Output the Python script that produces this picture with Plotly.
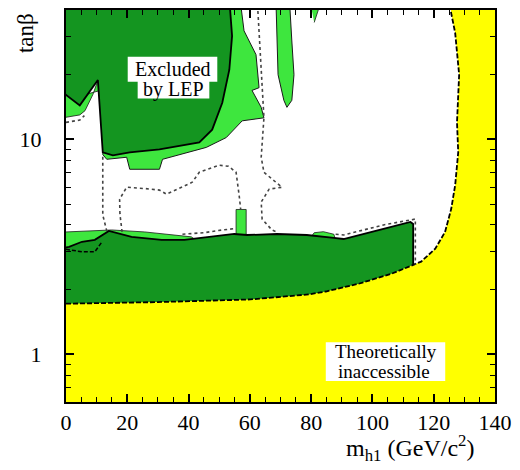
import math
import plotly.graph_objects as go

# ---------------- data ----------------
# boundary of the theoretically inaccessible (yellow) region
bound_x = [0, 30, 60.1, 79.2, 84.8, 95.5, 106.2, 113.3, 115.9, 120.5, 123.7, 125.7, 127.0, 128.0, 127.6, 128.3, 127.0, 125.7, 125.3]
bound_y = [1.72, 1.75, 1.80, 1.90, 1.96, 2.13, 2.37, 2.61, 2.70, 3.10, 3.71, 4.74, 6.12, 8.71, 12.0, 20.0, 31.3, 38.7, 45]

# dark green (excluded) : low tan(beta) band
band_x = [-1, 113.3, 113.3, 112.4, 103.6, 90.6, 87.4, 78.6, 68.9, 59.1, 54.9, 38.6, 31.2, 21.4, 14.0, 9.4, 5.2, 1.0, -1]
band_y = [1.5, 1.5, 4.04, 4.13, 3.83, 3.44, 3.48, 3.59, 3.63, 3.59, 3.63, 3.41, 3.41, 3.52, 3.75, 3.41, 3.34, 3.16, 3.13]

# dark green (excluded) : high tan(beta) region
high_x = [-1, 53.3, 54.2, 53.3, 51.0, 47.7, 43.5, 30.5, 20.8, 15.3, 12.0, 11.0, 10.4, 4.5, -1]
high_y = [45, 45, 30.3, 21.1, 14.8, 11.1, 9.68, 8.99, 8.71, 8.43, 8.71, 14.8, 18.9, 14.4, 16.5]

# light green regions
lg_main_x = [50, 56.8, 58.1, 62.0, 63.0, 60.7, 63.7, 64.6, 57.5, 52.3, 45.8, 31.5, 30.5, 20.8, 19.8, 13.3, 12.0, 12.5, 30, 50]
lg_main_y = [45, 45, 32.0, 24.8, 17.4, 16.9, 14.1, 12.6, 12.2, 10.2, 9.18, 8.08, 7.26, 7.26, 8.26, 8.08, 8.5, 10, 10, 20]
lg_hill_x = [-1, 4.5, 6.2, 8.8, 10.5, 12, 5, -1]
lg_hill_y = [12.6, 13.0, 13.6, 16.2, 19.0, 17, 16, 17]
lg_strip_x = [68.5, 69.2, 71.1, 72.1, 73.7, 74.4, 73.7, 72.9]
lg_strip_y = [45, 20.0, 15.2, 14.1, 15.2, 20.0, 28.7, 45]
lg_sliver_x = [79.5, 83.5, 81.0]
lg_sliver_y = [45, 45, 35]
lg_band_x = [-1, 0, 14.9, 25.7, 40.9, 45, -1]
lg_band_y = [3.71, 3.71, 3.79, 3.71, 3.52, 3.2, 3.0]
lg_spike_x = [55.5, 55.5, 58.8, 58.8]
lg_spike_y = [3.4, 4.72, 4.72, 3.4]
lg_bump_x = [79.5, 81.0, 84.0, 87.4, 88.0]
lg_bump_y = [3.45, 3.68, 3.72, 3.62, 3.4]

# black dashed line inside the band
inner_x = [0, 1.0, 5.2, 9.4, 11.7]
inner_y = [3.08, 3.06, 3.0, 3.0, 3.33]

# dotted contours
dot1_x = [0, 4.5, 6.0]
dot1_y = [12.0, 12.3, 12.9]
dot2_x = [12.0, 12.0, 12.2, 12.0, 13.3]
dot2_y = [8.3, 7.83, 6.0, 4.45, 3.75]
dot3_x = [18.3, 17.6, 17.5, 19.8, 26, 30.5, 32.8, 41.2, 43.5, 50, 53, 55.5, 56.5, 57.0]
dot3_y = [3.71, 4.5, 5.27, 5.99, 5.9, 5.81, 5.56, 6.32, 7.03, 7.58, 7.5, 7.03, 5.5, 4.74]
dot4_x = [38, 45, 51, 55.5]
dot4_y = [3.62, 3.68, 3.79, 3.85]
dot5_x = [62.4, 63.7, 64.6, 63.7, 64.6, 68.5, 70.5, 66.3, 63.7, 64.0, 67.2, 69]
dot5_y = [45, 20.0, 12.6, 8.26, 7.03, 6.32, 5.99, 5.87, 5.11, 4.26, 3.79, 3.7]
dot6_x = [88, 90.6, 103.6, 114.0, 114.0]
dot6_y = [3.62, 3.59, 4.0, 4.26, 2.61]

x_ticks = [0, 20, 40, 60, 80, 100, 120, 140]
y_ticks = [1, 10]
y_minor = [0.6, 0.7, 0.8, 0.9, 2, 3, 4, 5, 6, 7, 8, 9, 20, 30, 40]

DARK = "#149520"
LIGHT = "#3ee63e"
YELLOW = "#ffff00"
FONT = "Liberation Serif, Times New Roman, serif"

fig = go.Figure()


def poly(xs, ys, fill, lw=1.2, lc="black"):
    fig.add_trace(go.Scatter(x=xs, y=ys, mode="lines", fill="toself", fillcolor=fill,
                             line=dict(color=lc, width=lw), hoverinfo="skip"))


def curve(xs, ys, dash="dot", color="#444", width=1.6):
    fig.add_trace(go.Scatter(x=xs, y=ys, mode="lines",
                             line=dict(color=color, width=width, dash=dash), hoverinfo="skip"))


# light green regions (dark green drawn on top)
poly(lg_main_x, lg_main_y, LIGHT, 1.0, "#1a1a1a")
poly(lg_hill_x, lg_hill_y, LIGHT, 0.8, "#1a1a1a")
poly(lg_strip_x, lg_strip_y, LIGHT, 1.0, "#1a1a1a")
poly(lg_sliver_x, lg_sliver_y, LIGHT, 0.8, "#1a1a1a")
poly(lg_band_x, lg_band_y, LIGHT, 0.8, "#1a1a1a")
poly(lg_spike_x, lg_spike_y, LIGHT, 0.8, "#1a1a1a")
poly(lg_bump_x, lg_bump_y, LIGHT, 0.8, "#1a1a1a")

# dark green excluded regions
poly(high_x, high_y, DARK, 1.8)
poly(band_x, band_y, DARK, 1.8)

# yellow inaccessible region
yx = [-2, -2] + bound_x + [150, 150]
yy = [0.5, bound_y[0]] + bound_y + [45, 0.5]
fig.add_trace(go.Scatter(x=yx, y=yy, mode="lines", fill="toself", fillcolor=YELLOW,
                         line=dict(width=0), hoverinfo="skip"))
curve(bound_x, bound_y, dash="5px,2px", color="black", width=1.8)

curve(inner_x, inner_y, dash="4px,2px", color="black", width=1.5)
for dx, dy in [(dot1_x, dot1_y), (dot2_x, dot2_y), (dot3_x, dot3_y), (dot4_x, dot4_y),
               (dot5_x, dot5_y), (dot6_x, dot6_y)]:
    curve(dx, dy)

# ---------------- layout ----------------
L, R, T, B = 66, 23, 8, 68
W, H = 520, 470
pw, ph = W - L - R, H - T - B


def px2paper(px, py):
    return (px - L) / pw, (H - B - py) / ph


shapes = []
for (x0, y0, x1, y1) in [(128, 55, 218, 80), (138, 79, 210, 97), (327, 342, 447, 381)]:
    a0, b0 = px2paper(x0, y1)
    a1, b1 = px2paper(x1, y0)
    shapes.append(dict(type="rect", xref="paper", yref="paper", x0=a0, y0=b0, x1=a1, y1=b1,
                       fillcolor="white", line=dict(width=0), layer="above"))

annots = []
for text, px, py, size in [("Excluded", 173, 67, 20), ("by LEP", 174, 88, 20),
                           ("Theoretically", 387, 351, 19), ("inaccessible", 385, 371, 19)]:
    ax, ay = px2paper(px, py)
    annots.append(dict(text=text, x=ax, y=ay, xref="paper", yref="paper", showarrow=False,
                       xanchor="center", yanchor="middle", font=dict(family=FONT, size=size, color="black")))

ax, ay = px2paper(26, 31)
annots.append(dict(text="tanβ", x=ax, y=ay, xref="paper", yref="paper", showarrow=False,
                   textangle=-90, xanchor="center", yanchor="middle",
                   font=dict(family=FONT, size=23, color="black")))
ax, ay = px2paper(412, 448)
annots.append(dict(text="m<sub>h1</sub> (GeV/c<sup>2</sup>)", x=ax, y=ay, xref="paper", yref="paper",
                   showarrow=False, xanchor="center", yanchor="middle",
                   font=dict(family=FONT, size=24, color="black")))

fig.update_layout(
    width=W, height=H, margin=dict(l=L, r=R, t=T, b=B),
    paper_bgcolor="white", plot_bgcolor="white", showlegend=False,
    shapes=shapes, annotations=annots,
    font=dict(family=FONT, color="black"),
    xaxis=dict(range=[0, 140], tickvals=x_ticks, ticks="inside", ticklen=8, tickwidth=1.5,
               tickcolor="black", showline=True, linecolor="black", linewidth=2, mirror="allticks",
               showgrid=False, zeroline=False, tickfont=dict(family=FONT, size=22),
               ticklabelstandoff=0,
               minor=dict(ticks="inside", ticklen=5, tickwidth=1.2, dtick=5, tickcolor="black",
                          showgrid=False)),
    yaxis=dict(type="log", range=[math.log10(0.6), math.log10(40)], tickvals=y_ticks,
               ticktext=[str(v) for v in y_ticks], ticks="inside", ticklen=8, tickwidth=1.5,
               tickcolor="black", showline=True, linecolor="black", linewidth=2, mirror="allticks",
               showgrid=False, zeroline=False, tickfont=dict(family=FONT, size=22),
               ticklabelstandoff=18,
               minor=dict(ticks="inside", ticklen=5, tickwidth=1.2, tickvals=y_minor,
                          tickcolor="black", showgrid=False)),
)

fig.write_html("out.html")
